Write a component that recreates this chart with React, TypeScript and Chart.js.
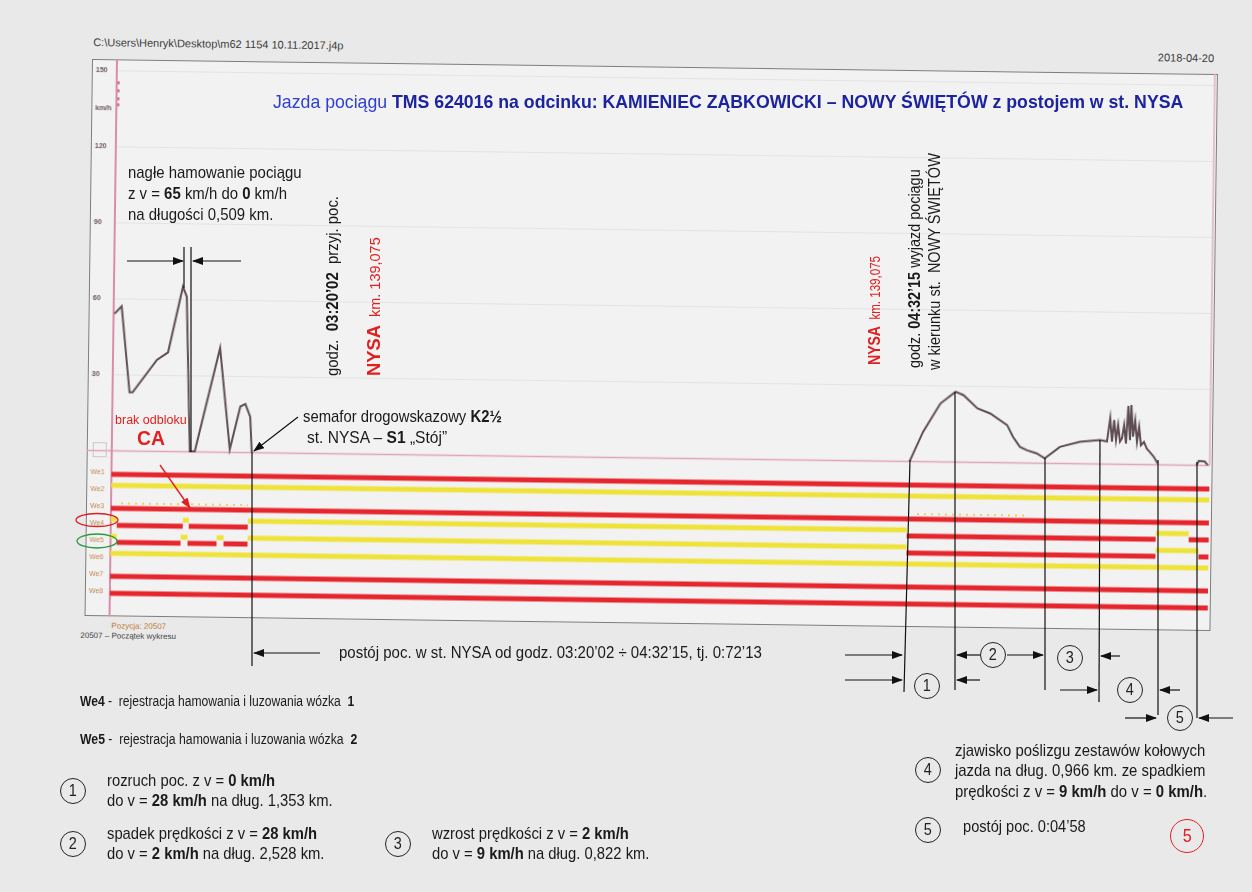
import React, { useEffect, useLayoutEffect, useRef } from "react";
import { Chart, registerables } from "chart.js";

Chart.register(...registerables);

// ---------------- data ----------------
// speed axis ticks (km/h)
const speedTicks = [150, 135, 120, 90, 60, 30, 0];
const speedTickLabels = ["150", "km/h", "120", "90", "60", "30", ""];

// recorder samples (x) and speed in km/h (v)
// run 1: approach to Nysa, sudden braking, stop at semaphore
const run1X = [1, 8, 17, 20, 44, 55, 69, 73, 78, 83, 107, 118, 128, 133, 138, 140];
const run1V = [54, 57, 23, 23, 36, 39, 65, 61, 0, 0, 41, 1, 18, 19, 14, 0];
// run 2: departure from Nysa towards Nowy Świętów (with wheel slip)
const run2X = [798, 811, 828, 843, 851, 865, 878, 895, 901, 908, 915, 925, 933, 948, 968, 988,
  995, 998, 1000, 1002, 1004, 1006, 1008, 1010, 1012, 1014, 1016, 1018, 1019, 1021, 1023, 1025,
  1027, 1029, 1032, 1035, 1038, 1042, 1045, 1046];
const run2V = [0, 11.6, 22.9, 27.6, 26.3, 21.2, 19.2, 14.7, 10.1, 6.2, 4.9, 3.7, 1.8, 6.4, 8.5, 9.3,
  8.8, 18, 8.8, 17.3, 9.4, 15.4, 8.8, 10.1, 15.4, 8.1, 22.9, 9.4, 23.3, 10.8, 17.3, 8.8,
  14.7, 7.5, 8.8, 6.1, 4.8, 3, 1, 0.3];
// run 3: short movement after the 0:04'58 stop
const run3X = [1085, 1087, 1093, 1096];
const run3V = [0, 1.6, 1.4, 0];

// binary inputs We1..We8 : change points [x, state] (0 = low / red, 1 = high / yellow)
const channelNames = ["We1", "We2", "We3", "We4", "We5", "We6", "We7", "We8"];
const we1: number[][] = [[0, 0]];
const we2: number[][] = [[0, 1]];
const we3: number[][] = [[0, 0]];
const we4: number[][] = [[0, 1], [6, 0], [72, 1], [78, 0], [137, 1], [796, 0], [1045, 1], [1078, 0]];
const we5: number[][] = [[0, 1], [6, 0], [70, 1], [77, 0], [106, 1], [113, 0], [137, 1], [796, 0], [1045, 1], [1088, 0]];
const we6: number[][] = [[0, 1]];
const we7: number[][] = [[0, 0]];
const we8: number[][] = [[0, 0]];
const channelStates = [we1, we2, we3, we4, we5, we6, we7, we8];
const channelEnd = 1098;
// short sporadic pulses registered on We3
const we3Pulses = [[10, 137], [806, 916]];

// ---------------- styles ----------------
const SANS = '"Liberation Sans", Arial, sans-serif';
const RED = "#e6262c";
const YELLOW = "#efe33a";
const TRACE = "#5e4d52";
const INK = "#1a1a1a";

const X_MAX = channelEnd;
const SPEED_MIN = -65.5;
const SPEED_MAX = 154.4;
const CH_MIN = -23.41;
const CH_MAX = 9.35;
const HIGH_SHIFT = 0.35;

const FRAME_W = 1126;
const FRAME_H = 557;

function zip(xs: number[], vs: number[]) {
  return xs.map((x, i) => ({ x, y: vs[i] }));
}

function channelPoints(changes: number[][], state: number, level: number) {
  const pts: { x: number; y: number | null }[] = [];
  changes.forEach((c, k) => {
    const x0 = c[0];
    const x1 = k + 1 < changes.length ? changes[k + 1][0] : channelEnd;
    if (c[1] === state) {
      const y = state ? level - HIGH_SHIFT : level;
      pts.push({ x: x0, y }, { x: x1, y }, { x: x1, y: null });
    }
  });
  return pts;
}

const framePlugin = {
  id: "framePlugin",
  beforeDatasetsDraw(chart: any) {
    const { ctx, chartArea: a, scales } = chart;
    const y = scales.y;
    const yc = scales.yc;
    ctx.save();
    speedTicks.forEach((t, i) => {
      const py = Math.round(y.getPixelForValue(t)) + 0.5;
      if (speedTickLabels[i] !== "km/h") {
        ctx.strokeStyle = t === 0 ? "#e2a3b5" : "#e3e3e3";
        ctx.lineWidth = t === 0 ? 1.5 : 1;
        ctx.beginPath();
        ctx.moveTo(t === 0 ? 0 : a.left, py);
        ctx.lineTo(a.right, py);
        ctx.stroke();
      }
      ctx.fillStyle = "#6b5558";
      ctx.font = "bold 7px " + SANS;
      ctx.textBaseline = "middle";
      ctx.textAlign = "left";
      ctx.fillText(speedTickLabels[i], 4, py);
    });
    // left axis line
    ctx.strokeStyle = "#d98cab";
    ctx.lineWidth = 2;
    ctx.beginPath();
    ctx.moveTo(a.left, 0);
    ctx.lineTo(a.left, chart.height);
    ctx.stroke();
    // small red marks at top of axis
    ctx.strokeStyle = "#d04050";
    ctx.lineWidth = 1.5;
    [22, 30, 38, 44].forEach((v) => {
      ctx.beginPath();
      ctx.moveTo(a.left + 2, v);
      ctx.lineTo(a.left + 2, v + 3);
      ctx.stroke();
    });
    // right inner line
    ctx.strokeStyle = "#e0b0c0";
    ctx.lineWidth = 1.5;
    ctx.beginPath();
    ctx.moveTo(a.right, 0);
    ctx.lineTo(a.right, y.getPixelForValue(0));
    ctx.stroke();
    // zero box
    const z = y.getPixelForValue(0);
    ctx.strokeStyle = "#cfc4c6";
    ctx.lineWidth = 1;
    ctx.strokeRect(6.5, z - 7.5, 13, 14);
    // channel labels
    ctx.fillStyle = "#c08a55";
    ctx.font = "7px " + SANS;
    channelNames.forEach((n, i) => {
      ctx.fillText(n, 4, yc.getPixelForValue(i + 1) - 2);
    });
    ctx.restore();
  },
};

function buildConfig(): any {
  const datasets: any[] = [];
  const speedData = [
    ...zip(run1X, run1V),
    { x: run1X[run1X.length - 1] + 1, y: null },
    ...zip(run2X, run2V),
    { x: run2X[run2X.length - 1] + 1, y: null },
    ...zip(run3X, run3V),
  ];
  datasets.push({
    label: "v",
    data: speedData,
    yAxisID: "y",
    borderColor: TRACE,
    borderWidth: 2,
    pointRadius: 0,
    spanGaps: false,
    tension: 0,
  });
  const pulseData: any[] = [];
  we3Pulses.forEach((r) => {
    pulseData.push({ x: r[0], y: 3 - 0.3 }, { x: r[1], y: 3 - 0.3 }, { x: r[1], y: null });
  });
  datasets.push({
    label: "We3 pulses",
    data: pulseData,
    yAxisID: "yc",
    borderColor: "rgba(236,200,60,0.8)",
    borderWidth: 2,
    borderDash: [2, 5],
    pointRadius: 0,
    spanGaps: false,
  });
  channelStates.forEach((ch, i) => {
    const level = i + 1;
    datasets.push({
      label: channelNames[i] + " high",
      data: channelPoints(ch, 1, level),
      yAxisID: "yc",
      borderColor: YELLOW,
      borderWidth: 5,
      borderCapStyle: "butt",
      pointRadius: 0,
      spanGaps: false,
    });
    datasets.push({
      label: channelNames[i] + " low",
      data: channelPoints(ch, 0, level),
      yAxisID: "yc",
      borderColor: RED,
      borderWidth: 5,
      borderCapStyle: "butt",
      pointRadius: 0,
      spanGaps: false,
    });
  });
  return {
    type: "line",
    data: { datasets },
    options: {
      responsive: false,
      maintainAspectRatio: false,
      animation: false,
      layout: { padding: { left: 25, right: 3, top: 0, bottom: 0 } },
      plugins: { legend: { display: false }, tooltip: { enabled: false } },
      elements: { point: { radius: 0 }, line: { tension: 0 } },
      scales: {
        x: { type: "linear", min: 0, max: X_MAX, display: false },
        y: { type: "linear", min: SPEED_MIN, max: SPEED_MAX, display: false },
        yc: { type: "linear", min: CH_MIN, max: CH_MAX, reverse: true, display: false },
      },
    },
    plugins: [framePlugin],
  };
}

// ---------------- overlay helpers ----------------
// squeezes a line of Arial-like text horizontally (narrow face of the original)
function Fit(props: { w?: number; sx?: number; children: any }) {
  const ref = useRef<HTMLSpanElement | null>(null);
  useLayoutEffect(() => {
    const el = ref.current;
    if (!el) return;
    if (props.w) {
      const nat = el.offsetWidth;
      if (nat > 0) el.style.transform = `scaleX(${props.w / nat})`;
    } else {
      el.style.transform = `scaleX(${props.sx ?? 0.82})`;
    }
  }, [props.w, props.sx]);
  return (
    <span ref={ref} style={{ display: "inline-block", transformOrigin: "0 0", whiteSpace: "pre" }}>
      {props.children}
    </span>
  );
}

function T(props: { x: number; y: number; w?: number; sx?: number; size?: number; color?: string; children: any; weight?: any }) {
  const size = props.size ?? 15;
  return (
    <div
      style={{
        position: "absolute",
        left: props.x,
        top: props.y - size * 0.6,
        fontSize: size,
        lineHeight: 1.2,
        color: props.color ?? INK,
        whiteSpace: "pre",
        fontWeight: props.weight ?? "normal",
      }}
    >
      <Fit w={props.w} sx={props.sx}>{props.children}</Fit>
    </div>
  );
}

function V(props: { x: number; yb: number; w?: number; size?: number; color?: string; children: any }) {
  const size = props.size ?? 15;
  return (
    <div
      style={{
        position: "absolute",
        left: props.x,
        top: props.yb,
        fontSize: size,
        lineHeight: `${Math.round(size * 1.2)}px`,
        color: props.color ?? INK,
        whiteSpace: "pre",
        transform: "rotate(-90deg)",
        transformOrigin: "0 0",
      }}
    >
      <Fit w={props.w}>{props.children}</Fit>
    </div>
  );
}

function Circ(props: { x: number; y: number; n: string; color?: string; r?: number; size?: number }) {
  const r = props.r ?? 13;
  const c = props.color ?? "#222";
  return (
    <div
      style={{
        position: "absolute",
        left: props.x - r,
        top: props.y - r,
        width: r * 2,
        height: r * 2,
        border: `1.3px solid ${c}`,
        borderRadius: "50%",
        boxSizing: "border-box",
        color: c,
        fontSize: props.size ?? 17,
        lineHeight: `${r * 2 - 2}px`,
        textAlign: "center",
      }}
    >
      <span style={{ display: "inline-block", transform: "scaleX(0.85)" }}>{props.n}</span>
    </div>
  );
}

const B = (p: { children: any }) => <b>{p.children}</b>;

// annotation lines (page layout), [x1, y1, x2, y2, arrowhead]
const annLines: [number, number, number, number, boolean][] = [
  [127, 261, 183, 261, true],
  [241, 261, 193, 261, true],
  [184, 247, 184, 288, false],
  [191, 247, 191, 452, false],
  [298, 417, 254, 451, true],
  [252, 452, 252, 666, false],
  [320, 653, 254, 653, true],
  [910, 460, 904, 692, false],
  [955, 392, 955, 690, false],
  [1045, 458, 1045, 690, false],
  [1100, 440, 1099, 702, false],
  [1158, 460, 1158, 715, false],
  [1197, 462, 1197, 718, false],
  [845, 655, 902, 655, true],
  [845, 680, 902, 680, true],
  [980, 655, 957, 655, true],
  [1007, 655, 1043, 655, true],
  [980, 680, 957, 680, true],
  [1120, 656, 1101, 656, true],
  [1060, 690, 1097, 690, true],
  [1180, 690, 1160, 690, true],
  [1125, 718, 1156, 718, true],
  [1233, 718, 1199, 718, true],
];

export default function App() {
  const canvasRef = useRef<HTMLCanvasElement | null>(null);
  useEffect(() => {
    if (!canvasRef.current) return;
    const chart = new Chart(canvasRef.current, buildConfig());
    return () => chart.destroy();
  }, []);

  return (
    <div
      style={{
        position: "absolute",
        left: 0,
        top: 0,
        width: 1252,
        height: 892,
        overflow: "hidden",
        background: "#e9e9e9",
        fontFamily: SANS,
      }}
    >
      {/* scanned recorder chart (slightly rotated) */}
      <div
        style={{
          position: "absolute",
          left: 92,
          top: 59,
          width: FRAME_W,
          height: FRAME_H,
          transform: "rotate(0.768deg)",
          transformOrigin: "0 0",
        }}
      >
        <div style={{ position: "absolute", left: 1, top: -23, fontSize: 11, color: "#3c3c3c", whiteSpace: "pre" }}>
          C:\Users\Henryk\Desktop\m62 1154 10.11.2017.j4p
        </div>
        <div style={{ position: "absolute", right: 4, top: -22, fontSize: 11, color: "#3c3c3c" }}>2018-04-20</div>
        <div
          style={{
            position: "absolute",
            left: 0,
            top: 0,
            width: FRAME_W,
            height: FRAME_H,
            background: "#f2f2f2",
            border: "1.5px solid #7d7d7d",
            boxSizing: "border-box",
          }}
        />
        <canvas ref={canvasRef} width={FRAME_W} height={FRAME_H} style={{ position: "absolute", left: 0, top: 0, display: "block" }} />
        <div style={{ position: "absolute", left: 27, top: 562, fontSize: 8, color: "#c07a35", whiteSpace: "pre" }}>Pozycja: 20507</div>
        <div style={{ position: "absolute", left: -4, top: 572, fontSize: 8, color: "#444", whiteSpace: "pre" }}>20507 – Początek wykresu</div>
      </div>

      {/* annotation drawing */}
      <svg width={1252} height={892} style={{ position: "absolute", left: 0, top: 0 }}>
        <defs>
          <marker id="ah" markerWidth="11" markerHeight="8" refX="10" refY="4" orient="auto" markerUnits="userSpaceOnUse">
            <path d="M0,0 L11,4 L0,8 z" fill="#111" />
          </marker>
          <marker id="ahr" markerWidth="11" markerHeight="8" refX="10" refY="4" orient="auto" markerUnits="userSpaceOnUse">
            <path d="M0,0 L11,4 L0,8 z" fill="#e02020" />
          </marker>
        </defs>
        {annLines.map((l, i) => (
          <line key={i} x1={l[0]} y1={l[1]} x2={l[2]} y2={l[3]} stroke="#111" strokeWidth={1.2} markerEnd={l[4] ? "url(#ah)" : undefined} />
        ))}
        <line x1={160} y1={465} x2={190} y2={508} stroke="#e02020" strokeWidth={1.4} markerEnd="url(#ahr)" />
        <ellipse cx={97} cy={520} rx={21} ry={6.5} fill="none" stroke="#e02020" strokeWidth={1.3} />
        <ellipse cx={97} cy={541} rx={20} ry={7} fill="none" stroke="#2a9a3a" strokeWidth={1.3} />
      </svg>

      {/* title */}
      <T x={273} y={102} w={910} size={19} color="#2f3fcf">
        Jazda pociągu <span style={{ fontWeight: "bold", color: "#1c239e" }}>TMS 624016 na odcinku: KAMIENIEC ZĄBKOWICKI – NOWY ŚWIĘTÓW z postojem w st. NYSA</span>
      </T>

      {/* left annotations */}
      <T x={128} y={173} w={174} size={17}>nagłe hamowanie pociągu</T>
      <T x={128} y={194} w={159} size={17}>z v = <B>65</B> km/h do <B>0</B> km/h</T>
      <T x={128} y={215} w={145} size={17}>na długości 0,509 km.</T>

      <T x={115} y={420} w={72} size={12} color="#e02020">brak odbloku</T>
      <T x={137} y={438} w={28} size={20} color="#e02020" weight="bold">CA</T>

      <V x={323} yb={376} w={180} size={16}>godz.  <B>03:20’02</B>  przyj. poc.</V>
      <V x={365} yb={376} w={139} size={15} color="#e02020"><span style={{ fontWeight: "bold", fontSize: 19 }}>NYSA</span>  km. 139,075</V>

      <V x={866} yb={365} w={109} size={14} color="#e02020"><span style={{ fontWeight: "bold", fontSize: 17 }}>NYSA</span>  km. 139,075</V>
      <V x={905} yb={368} w={199} size={16}>godz. <B>04:32’15</B> wyjazd pociągu</V>
      <V x={925} yb={370} w={217} size={16}>w kierunku st.  NOWY ŚWIĘTÓW</V>

      <T x={303} y={417} w={199} size={17}>semafor drogowskazowy <B>K2½</B></T>
      <T x={307} y={438} w={140} size={17}>st. NYSA – <B>S1</B> „Stój”</T>

      <T x={339} y={653} w={423} size={16}>postój poc. w st. NYSA od godz. 03:20’02 ÷ 04:32’15, tj. 0:72’13</T>

      {/* circles on the right */}
      <Circ x={927} y={686} n="1" />
      <Circ x={993} y={655} n="2" />
      <Circ x={1070} y={658} n="3" />
      <Circ x={1130} y={690} n="4" />
      <Circ x={1180} y={718} n="5" />

      {/* bottom notes */}
      <T x={80} y={701} w={274} size={14}><B>We4</B> -  rejestracja hamowania i luzowania wózka  <B>1</B></T>
      <T x={80} y={739} w={277} size={14}><B>We5</B> -  rejestracja hamowania i luzowania wózka  <B>2</B></T>

      <Circ x={73} y={791} n="1" />
      <T x={107} y={781} sx={0.87} size={17}>rozruch poc. z v = <B>0 km/h</B></T>
      <T x={107} y={801} sx={0.87} size={17}>do v = <B>28 km/h</B> na dług. 1,353 km.</T>

      <Circ x={73} y={844} n="2" />
      <T x={107} y={834} sx={0.87} size={17}>spadek prędkości z v = <B>28 km/h</B></T>
      <T x={107} y={854} sx={0.87} size={17}>do v = <B>2 km/h</B> na dług. 2,528 km.</T>

      <Circ x={398} y={844} n="3" />
      <T x={432} y={834} sx={0.87} size={17}>wzrost prędkości z v = <B>2 km/h</B></T>
      <T x={432} y={854} sx={0.87} size={17}>do v = <B>9 km/h</B> na dług. 0,822 km.</T>

      <Circ x={928} y={770} n="4" />
      <T x={955} y={751} w={250} size={17}>zjawisko poślizgu zestawów kołowych</T>
      <T x={955} y={771} w={250} size={17}>jazda na dług. 0,966 km. ze spadkiem</T>
      <T x={955} y={792} w={252} size={17}>prędkości z v = <B>9 km/h</B> do v = <B>0 km/h</B>.</T>

      <Circ x={928} y={830} n="5" />
      <T x={963} y={827} w={123} size={17}>postój poc. 0:04’58</T>

      <Circ x={1187} y={836} n="5" r={17} color="#e02020" size={19} />
    </div>
  );
}
